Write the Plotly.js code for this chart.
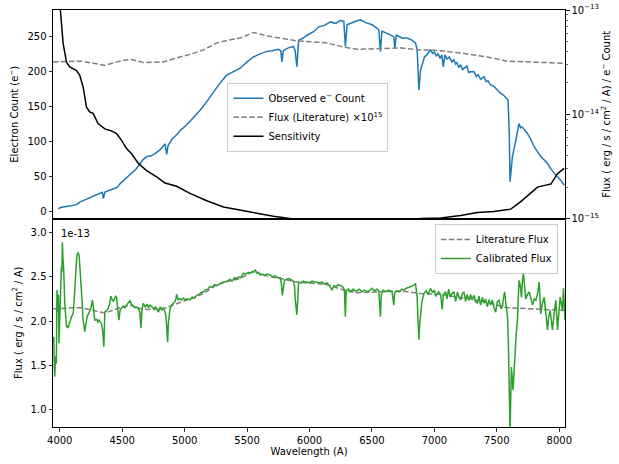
<!DOCTYPE html>
<html>
<head>
<meta charset="utf-8">
<script src="https://cdn.plot.ly/plotly-3.0.1.min.js"></script>
<style>
html,body{margin:0;padding:0;background:#fff;}
#chart{width:619px;height:464px;}
</style>
</head>
<body>
<div id="chart"></div>
<script>
// ---- Observed electron counts (top panel, left axis) ----
const obsWave = [3990,4000,4027,4060,4107,4130,4160,4200,4250,4300,4340,4350,4360,4400,4441,4460,4482,4520,4560,4615,4640,4669,4700,4730,4762,4800,4843,4856,4868,4900,4936,4970,5016,5070,5124,5180,5230,5280,5337,5390,5445,5500,5551,5600,5658,5700,5752,5770,5779,5790,5830,5872,5885,5899,5913,5950,5980,6033,6073,6120,6167,6210,6247,6275,6287,6301,6340,6370,6408,6450,6502,6530,6555,6568,6580,6630,6675,6683,6695,6740,6782,6820,6849,6862,6876,6889,6921,6945,6969,6985,7000,7015,7030,7045,7060,7071,7085,7100,7120,7140,7157,7170,7180,7195,7210,7225,7240,7260,7275,7290,7317,7335,7350,7370,7397,7415,7430,7450,7477,7500,7515,7531,7550,7571,7590,7600,7606,7615,7625,7652,7678,7690,7705,7725,7745,7770,7799,7825,7852,7880,7906,7930,7959,7985,8013,8039];
const obsCounts = [4,6,7,8,8.6,10,14,17,21,25,28,19,28,31,33,35,40,46,52,62,68,75,79,80,83,88,97,82,95,104,110,117,124,134,145,158,171,183,195,200,205,214,221,225,229,230,232,230,214,230,234,236,230,207,245,248,252,257,264,266,271,269,273,272,236,267,270,272,274,270,267,263,260,229,258,254,250,233,252,248,248,245,241,231,174,202,221,225,231,226,228,222,226,219,224,207,224,218,221,214,217,211,213,206,210,203,205,208,199,200,200,193,196,189,193,186,187,181,179,175,171,169,167,164,160,110,43,60,79,102,126,120,121,116,112,104,93,86,79,74,69,62,55,50,45,38];

// ---- Literature flux (units of 1e-13 erg/s/cm2/A) ----
const litWave = [3946,4000,4100,4174,4270,4361,4460,4562,4669,4829,4963,5050,5150,5257,5350,5445,5551,5658,5766,5899,6073,6140,6274,6381,6568,6729,6889,7050,7237,7425,7585,7799,8046];
const litFlux = [2.14,2.14,2.15,2.15,2.12,2.09,2.14,2.18,2.13,2.14,2.21,2.25,2.31,2.41,2.45,2.48,2.56,2.51,2.48,2.44,2.42,2.41,2.35,2.32,2.33,2.34,2.31,2.30,2.26,2.21,2.15,2.14,2.12];

// ---- Sensitivity (erg/s/cm2/A per e- count, right log axis) ----
const sensWave = [3990,4005,4027,4054,4080,4134,4160,4187,4214,4241,4267,4307,4361,4415,4455,4495,4535,4575,4628,4696,4776,4843,4936,5043,5177,5311,5445,5579,5712,5899,6100,6400,6700,6889,7050,7210,7344,7477,7612,7692,7772,7826,7892,7933,7986,8039];
const sensValue = [1.66e-13,1.00e-13,4.79e-14,3.16e-14,2.85e-14,2.63e-14,2.37e-14,1.83e-14,1.17e-14,1.05e-14,1.02e-14,8.13e-15,7.24e-15,6.92e-15,6.53e-15,5.62e-15,4.68e-15,4.17e-15,3.39e-15,2.88e-15,2.51e-15,2.19e-15,2.04e-15,1.74e-15,1.48e-15,1.29e-15,1.20e-15,1.12e-15,1.05e-15,9.8e-16,9.1e-16,8.7e-16,9.1e-16,1.00e-15,1.01e-15,1.07e-15,1.14e-15,1.17e-15,1.23e-15,1.45e-15,1.78e-15,2.00e-15,2.09e-15,2.14e-15,2.69e-15,3.02e-15];

// ---- Calibrated flux (units of 1e-13 erg/s/cm2/A) ----
const calWave = [3946,3952,3956,3960,3966,3973,3978,3982,3986,3990,3994,4000,4005,4010,4013,4017,4021,4026,4032,4040,4047,4054,4062,4068,4075,4085,4094,4107,4114,4120,4128,4135,4139,4147,4155,4162,4169,4178,4187,4194,4201,4210,4219,4230,4241,4250,4262,4270,4281,4295,4305,4315,4325,4334,4343,4353,4358,4361,4375,4388,4400,4409,4418,4428,4440,4447,4455,4465,4474,4483,4495,4510,4522,4535,4548,4562,4575,4590,4602,4615,4630,4642,4650,4658,4669,4685,4700,4710,4722,4740,4755,4765,4776,4790,4805,4817,4829,4840,4851,4858,4864,4870,4883,4896,4910,4923,4930,4936,4948,4960,4976,4990,5005,5020,5043,5060,5078,5097,5115,5130,5150,5165,5185,5204,5220,5240,5257,5275,5295,5311,5330,5348,5364,5380,5400,5418,5435,5450,5471,5490,5510,5525,5540,5552,5565,5580,5592,5605,5625,5640,5660,5685,5705,5725,5745,5766,5775,5782,5790,5800,5815,5832,5850,5870,5880,5886,5899,5906,5913,5930,5950,5966,5980,6000,6020,6040,6060,6080,6100,6120,6140,6160,6180,6195,6215,6230,6247,6265,6280,6287,6294,6310,6330,6350,6365,6381,6400,6420,6440,6465,6485,6502,6520,6540,6555,6562,6568,6575,6590,6610,6630,6648,6662,6675,6682,6700,6720,6740,6755,6775,6795,6809,6830,6849,6856,6862,6869,6876,6882,6889,6900,6916,6935,6950,6969,6985,7000,7010,7023,7035,7050,7063,7072,7090,7100,7115,7125,7140,7157,7170,7185,7197,7210,7225,7237,7250,7262,7277,7290,7303,7317,7330,7344,7357,7370,7384,7397,7410,7424,7437,7450,7464,7478,7491,7504,7518,7532,7545,7555,7563,7572,7585,7592,7598,7606,7611,7617,7630,7644,7655,7665,7672,7678,7688,7697,7705,7713,7722,7732,7745,7759,7772,7786,7800,7812,7825,7839,7852,7865,7879,7892,7906,7916,7927,7937,7946,7960,7973,7986,7996,8007,8016,8026,8034,8046];
const calFlux = [1.80,1.82,1.55,1.37,1.60,1.52,2.35,2.10,2.24,2.30,1.75,2.10,2.39,2.55,2.61,2.55,2.89,2.70,2.57,2.20,2.05,1.93,1.95,1.92,1.97,2.00,2.05,2.08,2.20,2.39,2.55,2.70,2.76,2.77,2.74,2.62,2.50,2.25,2.01,1.95,1.88,1.97,2.05,2.08,2.12,2.15,2.24,2.12,2.01,2.02,1.99,2.01,1.99,1.97,1.90,1.71,1.95,2.10,2.12,2.14,2.20,2.28,2.25,2.22,2.25,2.28,2.27,2.15,2.01,2.12,2.15,2.17,2.15,2.18,2.21,2.23,2.19,2.17,2.15,2.16,2.14,2.10,1.92,2.12,2.20,2.16,2.19,2.15,2.18,2.16,2.13,2.16,2.14,2.10,2.16,2.12,2.15,2.12,2.05,1.90,1.76,1.98,2.14,2.18,2.20,2.22,2.25,2.30,2.24,2.25,2.24,2.26,2.24,2.25,2.24,2.27,2.26,2.29,2.30,2.32,2.33,2.35,2.36,2.39,2.38,2.41,2.40,2.41,2.43,2.44,2.44,2.46,2.47,2.45,2.49,2.48,2.50,2.49,2.54,2.53,2.55,2.54,2.56,2.55,2.58,2.54,2.55,2.52,2.53,2.51,2.53,2.52,2.50,2.51,2.49,2.49,2.42,2.29,2.40,2.46,2.47,2.48,2.47,2.45,2.40,2.24,2.07,2.30,2.44,2.43,2.45,2.44,2.44,2.43,2.45,2.44,2.44,2.43,2.44,2.42,2.43,2.40,2.35,2.40,2.39,2.41,2.40,2.39,2.35,2.05,2.34,2.36,2.33,2.36,2.34,2.34,2.36,2.33,2.35,2.33,2.35,2.37,2.34,2.36,2.34,2.20,2.05,2.30,2.35,2.33,2.35,2.34,2.32,2.18,2.32,2.34,2.33,2.36,2.35,2.37,2.38,2.39,2.40,2.42,2.35,2.27,2.00,1.79,1.95,2.07,2.22,2.31,2.34,2.30,2.37,2.32,2.35,2.28,2.30,2.33,2.30,2.13,2.30,2.33,2.25,2.36,2.27,2.31,2.33,2.22,2.33,2.26,2.24,2.31,2.33,2.22,2.30,2.235,2.30,2.24,2.29,2.22,2.20,2.28,2.18,2.27,2.20,2.25,2.16,2.24,2.18,2.235,2.15,2.10,2.22,2.235,2.14,2.16,2.28,2.33,2.20,2.07,1.80,1.48,0.75,1.10,1.48,1.22,1.67,1.85,2.01,2.30,2.46,2.40,2.27,2.45,2.54,2.40,2.25,2.30,2.33,2.26,2.18,2.25,2.235,2.30,2.44,2.08,2.20,2.27,2.10,1.90,2.05,2.12,2.00,1.90,2.10,2.235,1.90,2.10,2.27,2.20,2.12,2.37,2.01];

const xTicks = [4000,4500,5000,5500,6000,6500,7000,7500,8000];
const countTicks = [0,50,100,150,200,250];
const fluxTicks = [1.0,1.5,2.0,2.5,3.0];
const sensTicks = [1e-15,1e-14,1e-13];
const sensTickText = ['10<sup>−15</sup>','10<sup>−14</sup>','10<sup>−13</sup>'];

const FONT = 'DejaVu Sans, sans-serif';
const litScaled = litFlux.map(v => v * 100); // flux x 1e15 (flux in 1e-13 units)

const traces = [
  {x: obsWave, y: obsCounts, xaxis:'x', yaxis:'y', type:'scatter', mode:'lines',
   name:'Observed e<sup>−</sup> Count', line:{color:'#1f77b4', width:1.5}, legend:'legend'},
  {x: litWave, y: litScaled, xaxis:'x', yaxis:'y', type:'scatter', mode:'lines',
   name:'Flux (Literature) ×10<sup>15</sup>', line:{color:'#808080', width:1.5, dash:'5.5px,2.4px'}, legend:'legend'},
  {x: sensWave, y: sensValue, xaxis:'x', yaxis:'y2', type:'scatter', mode:'lines',
   name:'Sensitivity', line:{color:'#000000', width:1.5}, legend:'legend'},
  {x: litWave, y: litFlux, xaxis:'x2', yaxis:'y3', type:'scatter', mode:'lines',
   name:'Literature Flux', line:{color:'#808080', width:1.5, dash:'5.5px,2.4px'}, legend:'legend2'},
  {x: calWave, y: calFlux, xaxis:'x2', yaxis:'y3', type:'scatter', mode:'lines',
   name:'Calibrated Flux', line:{color:'#2ca02c', width:1.5}, legend:'legend2'}
];

const axCommon = {showgrid:false, zeroline:false, showline:true, linecolor:'#000', linewidth:1,
  ticks:'outside', ticklen:3.5, tickwidth:0.8, tickcolor:'#000',
  tickfont:{family:FONT, size:10, color:'#000'}};

const layout = {
  width:619, height:464,
  margin:{l:53, r:54, t:10, b:37},
  paper_bgcolor:'#fff', plot_bgcolor:'#fff',
  font:{family:FONT, size:10, color:'#000'},
  xaxis: Object.assign({}, axCommon, {domain:[0,1], anchor:'y', range:[3946,8046], showticklabels:false, ticks:'', mirror:true}),
  yaxis: Object.assign({}, axCommon, {domain:[0.5,1], anchor:'x', range:[-9.4,288], tickvals:countTicks,
    title:{text:'Electron Count (e<sup>−</sup>)', font:{family:FONT, size:10}, standoff:6}}),
  yaxis2: Object.assign({}, axCommon, {overlaying:'y', side:'right', anchor:'x', type:'log', range:[-15,-13],
    tickvals:sensTicks, ticktext:sensTickText,
    minor:{ticks:'outside', ticklen:2, tickwidth:0.6, tickcolor:'#000', dtick:'D1', showgrid:false},
    title:{text:'Flux ( erg / s / cm<sup>2</sup> / A) / e<sup>−</sup> Count', font:{family:FONT, size:10}, standoff:4}}),
  xaxis2: Object.assign({}, axCommon, {domain:[0,1], anchor:'y3', matches:'x', range:[3946,8046], tickvals:xTicks, mirror:true,
    title:{text:'Wavelength (A)', font:{family:FONT, size:10}, standoff:3}}),
  yaxis3: Object.assign({}, axCommon, {domain:[0,0.5], anchor:'x2', range:[0.803,3.158], tickvals:fluxTicks, tickformat:'.1f', mirror:true,
    title:{text:'Flux ( erg / s / cm<sup>2</sup> / A)', font:{family:FONT, size:10}, standoff:6}}),
  legend:{x:0.498, y:0.743, xanchor:'center', yanchor:'middle', bgcolor:'rgba(255,255,255,0.8)',
    bordercolor:'#cccccc', borderwidth:1, font:{family:FONT, size:10}, tracegroupgap:0},
  legend2:{x:0.986, y:0.487, xanchor:'right', yanchor:'top', bgcolor:'rgba(255,255,255,0.8)',
    bordercolor:'#cccccc', borderwidth:1, font:{family:FONT, size:10}, tracegroupgap:0},
  annotations:[{text:'1e-13', xref:'paper', yref:'paper', x:0.012, y:0.463, xanchor:'left', yanchor:'middle',
    showarrow:false, font:{family:FONT, size:10, color:'#000'}}],
  showlegend:true
};

Plotly.newPlot('chart', traces, layout, {staticPlot:true, displayModeBar:false});
</script>
</body>
</html>
